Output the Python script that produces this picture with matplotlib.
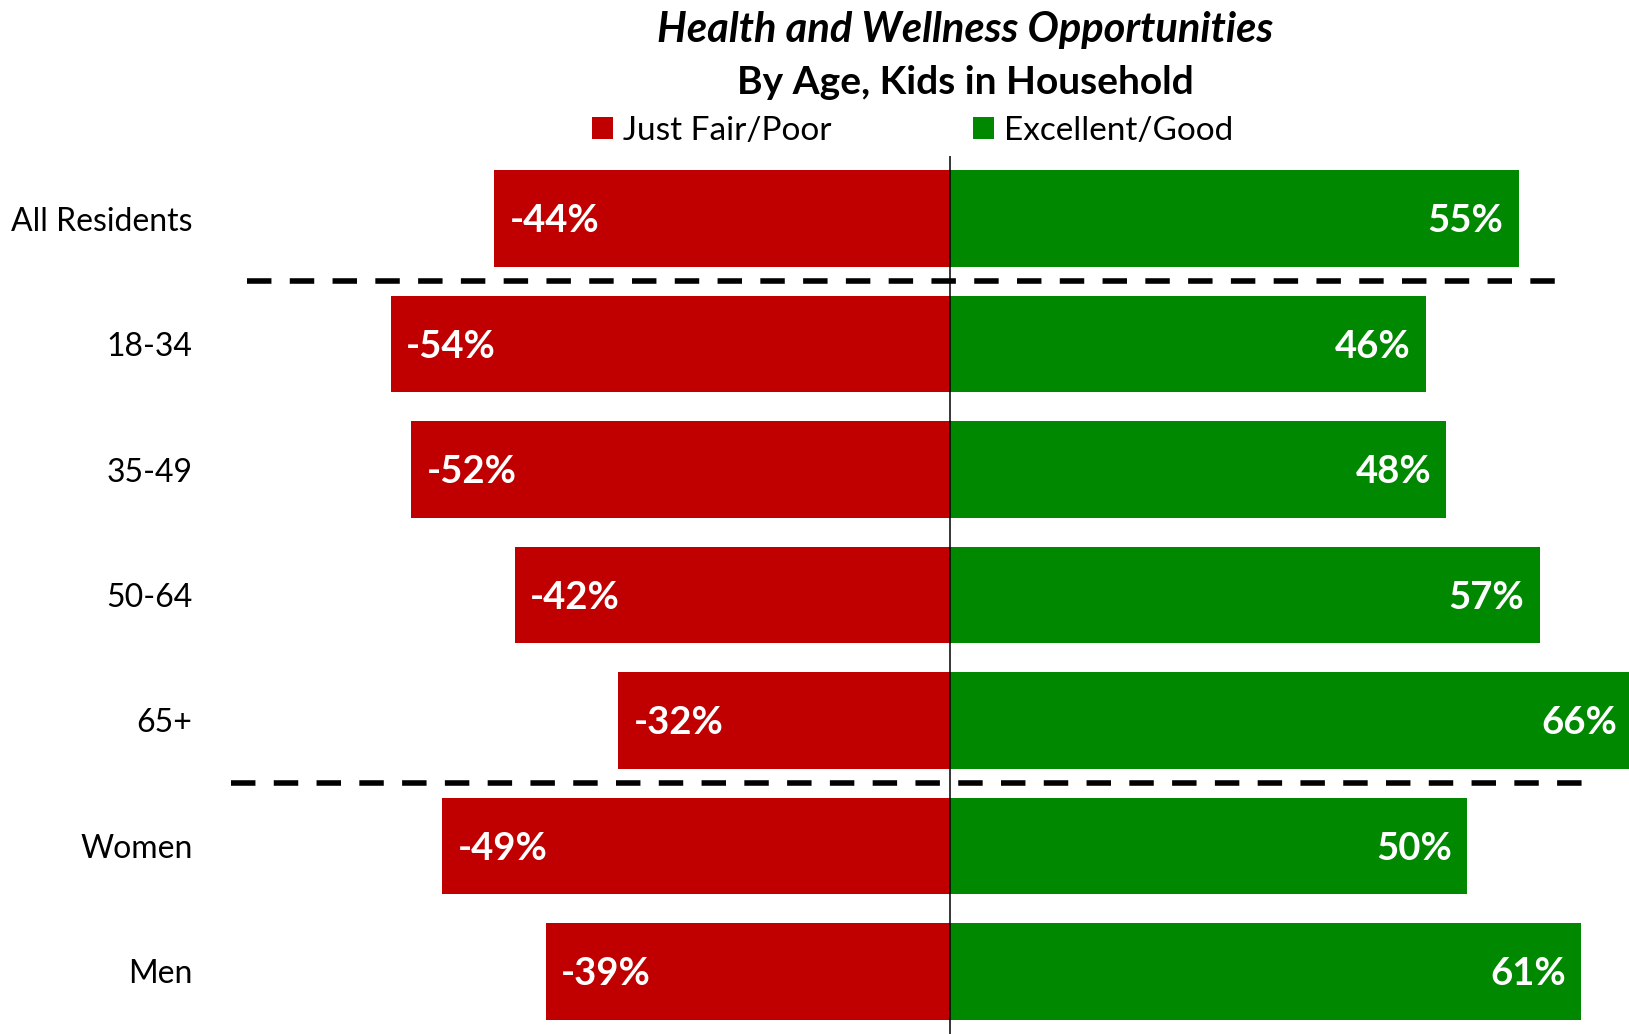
import matplotlib
matplotlib.use("Agg")
import matplotlib.pyplot as plt
from matplotlib.patches import Patch

plt.rcParams['font.family'] = ['Lato', 'DejaVu Sans']

categories = ["All Residents", "18-34", "35-49", "50-64", "65+", "Women", "Men"]
fair_poor = [-44, -54, -52, -42, -32, -49, -39]
excellent_good = [55, 46, 48, 57, 66, 50, 61]
series_names = ["Just Fair/Poor", "Excellent/Good"]

RED = "#C00000"
GREEN = "#008800"

W, H = 1629, 1034
fig = plt.figure(figsize=(W / 100, H / 100), dpi=100)
ax = fig.add_axes([205 / W, 0, 1 - 205 / W, (H - 156) / H])

y = list(range(len(categories)))
ax.barh(y, fair_poor, height=0.77, color=RED, edgecolor='none')
ax.barh(y, excellent_good, height=0.77, color=GREEN, edgecolor='none')

ax.set_xlim(-71.94, 65.64)
ax.set_ylim(6.5, -0.5)

ax.axvline(0, color='black', lw=1.1, zorder=5)

# group separators
for yy, x0, x1 in [(0.5, -67.9, 60.0), (4.5, -69.4, 61.6)]:
    ln, = ax.plot([x0, x1], [yy, yy], color='black', lw=4.0, zorder=6,
                  solid_capstyle='butt', dash_capstyle='butt')
    ln.set_dashes((4.4, 3.3))

for i, (r, g) in enumerate(zip(fair_poor, excellent_good)):
    ax.annotate(f"{r}%", xy=(r, i), xytext=(11, -2), textcoords='offset points',
                ha='left', va='center', color='white', fontsize=27.5, fontweight='bold',
                annotation_clip=False)
    ax.annotate(f"{g}%", xy=(g, i), xytext=(-11, -2), textcoords='offset points',
                ha='right', va='center', color='white', fontsize=27.5, fontweight='bold',
                annotation_clip=False, zorder=7)

ax.set_yticks(y)
ax.set_yticklabels(categories, fontsize=23)
ax.tick_params(axis='y', length=0, pad=9)
ax.tick_params(axis='x', bottom=False, labelbottom=False)
for s in ax.spines.values():
    s.set_visible(False)

fig.text(965 / W, 1 - 30 / H, "Health and Wellness Opportunities", ha='center', va='center',
         fontsize=30, fontweight='bold', fontstyle='italic')
fig.text(965 / W, 1 - 83 / H, "By Age, Kids in Household", ha='center', va='center',
         fontsize=28, fontweight='bold')

handles = [Patch(facecolor=RED, edgecolor='none'), Patch(facecolor=GREEN, edgecolor='none')]
fig.legend(handles, series_names, loc='center', bbox_to_anchor=(913 / W, 1 - 131 / H),
           ncol=2, frameon=False, fontsize=24, handlelength=0.63, handleheight=0.63,
           handletextpad=0.3, columnspacing=4.25)

fig.savefig("out.png", dpi=100)
